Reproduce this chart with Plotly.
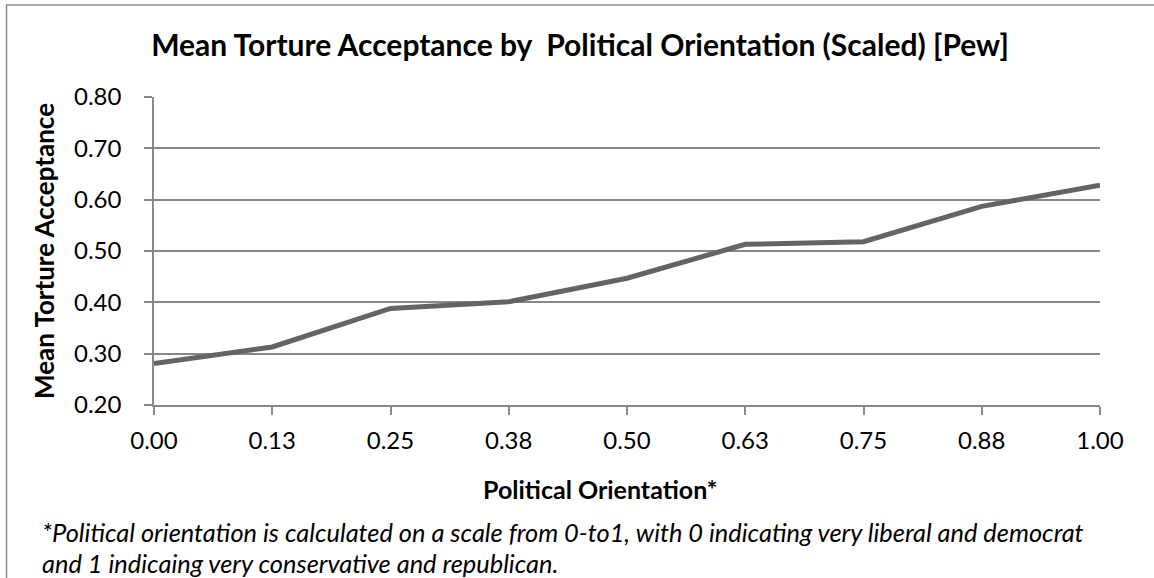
import plotly.graph_objects as go

categories = ["0.00", "0.13", "0.25", "0.38", "0.50", "0.63", "0.75", "0.88", "1.00"]
acceptance = [0.281, 0.313, 0.388, 0.401, 0.447, 0.513, 0.518, 0.587, 0.628]

FONT = "Lato"
GRID = "#888888"
W, H = 1154, 578
L, R, T, B = 154, 54, 97, 173
PW, PH = W - L - R, H - T - B


def px(x):
    return (x - L) / PW


def py(y):
    return (H - B - y) / PH


fig = go.Figure()
fig.add_trace(go.Scatter(
    x=categories, y=acceptance, mode="lines",
    line=dict(color="#646464", width=5), hoverinfo="x+y", showlegend=False,
))

fig.update_layout(
    width=W, height=H,
    margin=dict(l=L, r=R, t=T, b=B),
    paper_bgcolor="white", plot_bgcolor="white",
    font=dict(family=FONT, size=24, color="black"),
    title=dict(text="<b>Mean Torture Acceptance by  Political Orientation (Scaled) [Pew]</b>",
               x=580 / W, xanchor="center", y=1 - 45 / H, yanchor="middle",
               font=dict(family=FONT, size=30, color="black")),
    shapes=[
        dict(type="line", xref="paper", yref="paper", x0=px(6), x1=px(W + 10), y0=py(5), y1=py(5),
             line=dict(color="#8c8c8c", width=1.5)),
        dict(type="line", xref="paper", yref="paper", x0=px(6.5), x1=px(6.5), y0=py(5), y1=py(H + 10),
             line=dict(color="#8c8c8c", width=1.5)),
    ],
    annotations=[
        dict(text="<b>Political Orientation*</b>", xref="paper", yref="paper",
             x=px(600), y=py(489), xanchor="center", yanchor="middle", showarrow=False,
             font=dict(family=FONT, size=25)),
        dict(text="<b>Mean Torture Acceptance</b>", xref="paper", yref="paper",
             x=px(44), y=py(251), xanchor="center", yanchor="middle", showarrow=False,
             textangle=-90, font=dict(family=FONT, size=26)),
        dict(text="<i>*Political orientation is calculated on a scale from 0-to1, with 0 indicating very liberal and democrat</i>",
             xref="paper", yref="paper", x=px(40), y=py(532), xanchor="left", yanchor="middle",
             showarrow=False, font=dict(family=FONT, size=25.4)),
        dict(text="<i>and 1 indicaing very conservative and republican.</i>",
             xref="paper", yref="paper", x=px(40), y=py(563), xanchor="left", yanchor="middle",
             showarrow=False, font=dict(family=FONT, size=25.4)),
    ],
)

fig.update_xaxes(
    type="category", range=[0, 8],
    showline=True, linecolor=GRID, linewidth=1.5,
    ticks="outside", ticklen=8, tickcolor=GRID, tickwidth=1.5,
    showgrid=False, tickfont=dict(size=24), ticklabelstandoff=5,
)
fig.update_yaxes(
    range=[0.2, 0.8], dtick=0.1, tickformat=".2f",
    showline=True, linecolor=GRID, linewidth=1.5,
    ticks="outside", ticklen=8, tickcolor=GRID, tickwidth=1.5,
    showgrid=True, gridcolor=GRID, gridwidth=1.5,
    zeroline=False, tickfont=dict(size=24), ticklabelstandoff=18,
)

fig.write_html("out.html", config={"displayModeBar": False},
               post_script="document.body.style.margin='0';document.body.style.overflow='hidden';")
